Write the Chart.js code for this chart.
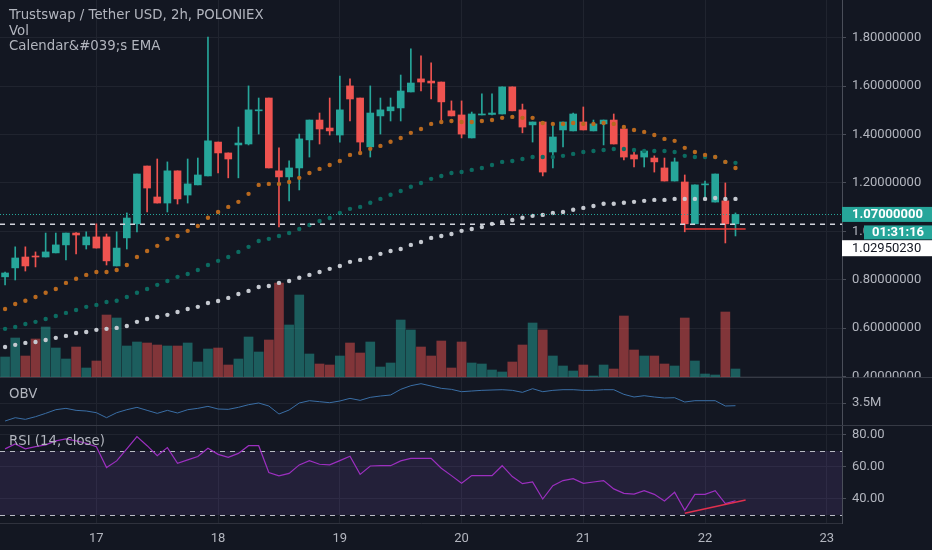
<!DOCTYPE html>
<html>
<head>
<meta charset="utf-8">
<script src="https://cdn.jsdelivr.net/npm/chart.js@4.4.1/dist/chart.umd.min.js"></script>
<style>
  body { margin: 0; background: #131722; width: 932px; height: 550px; overflow: hidden; position: relative; font-family: Roboto, sans-serif; }
  canvas { position: absolute; left: 0; }
  .lbl { position: absolute; left: 9px; color: #b2b5be; font-family: "DejaVu Sans", sans-serif; font-size: 13.3px; line-height: 16px; white-space: nowrap; }
  .sep { position: absolute; left: 0; width: 932px; height: 1px; background: #363a45; }
</style>
</head>
<body>
<canvas id="mainChart" width="932" height="378" style="top:0"></canvas>
<canvas id="obvChart" width="932" height="47" style="top:378px"></canvas>
<canvas id="rsiChart" width="932" height="124" style="top:426px"></canvas>
<div class="sep" style="top:377px"></div>
<div class="sep" style="top:425px"></div>
<div class="lbl" id="title" style="top:7px"></div>
<div class="lbl" id="volName" style="top:23px"></div>
<div class="lbl" id="emaName" style="top:38px"></div>
<div class="lbl" id="obvName" style="top:386px"></div>
<div class="lbl" id="rsiName" style="top:433px"></div>
<script>
// 2h candles, 16th 06:00 to 22nd 06:00
const openP = [0.812,0.849,0.894,0.898,0.894,0.911,0.944,0.993,0.944,0.977,
  0.977,0.857,0.973,1.031,1.270,1.142,1.117,1.250,1.150,1.192,
  1.229,1.369,1.324,1.357,1.361,1.498,1.551,1.250,1.225,1.262,
  1.378,1.460,1.427,1.398,1.601,1.551,1.349,1.477,1.498,1.510,
  1.576,1.630,1.621,1.617,1.498,1.481,1.386,1.481,1.483,1.485,
  1.597,1.502,1.440,1.452,1.328,1.419,1.415,1.452,1.415,1.444,
  1.460,1.423,1.316,1.307,1.303,1.262,1.208,1.204,1.031,1.192,
  1.121,1.126,1.031];
const highP = [0.832,0.936,0.936,0.915,0.993,0.993,0.993,0.995,0.998,1.031,
  0.989,0.998,1.076,1.237,1.270,1.299,1.287,1.250,1.299,1.303,
  1.803,1.369,1.324,1.431,1.601,1.551,1.551,1.345,1.291,1.402,
  1.460,1.489,1.551,1.642,1.630,1.551,1.601,1.551,1.551,1.646,
  1.754,1.725,1.696,1.617,1.539,1.539,1.493,1.568,1.568,1.597,
  1.597,1.526,1.452,1.452,1.448,1.452,1.489,1.514,1.460,1.460,
  1.485,1.431,1.340,1.332,1.312,1.303,1.303,1.233,1.192,1.208,
  1.237,1.200,1.076];
const lowP = [0.779,0.799,0.836,0.853,0.894,0.911,0.882,0.907,0.927,0.931,
  0.861,0.857,0.927,0.998,1.080,1.117,1.080,1.113,1.117,1.192,
  1.229,1.241,1.221,1.221,1.357,1.402,1.262,1.018,1.126,1.171,
  1.307,1.361,1.398,1.369,1.456,1.324,1.307,1.402,1.456,1.456,
  1.576,1.580,1.547,1.456,1.477,1.386,1.386,1.481,1.481,1.485,
  1.498,1.407,1.369,1.229,1.262,1.349,1.415,1.419,1.415,1.357,
  1.361,1.295,1.266,1.266,1.245,1.208,1.208,0.998,1.031,1.138,
  1.121,0.952,0.981];
const closeP = [0.828,0.890,0.857,0.894,0.915,0.944,0.993,0.985,0.977,0.931,
  0.878,0.931,1.055,1.237,1.179,1.117,1.250,1.134,1.196,1.233,
  1.374,1.324,1.299,1.365,1.502,1.502,1.262,1.225,1.262,1.382,
  1.460,1.423,1.415,1.502,1.547,1.369,1.489,1.502,1.514,1.580,
  1.613,1.617,1.613,1.535,1.477,1.402,1.485,1.485,1.489,1.597,
  1.498,1.431,1.452,1.245,1.390,1.452,1.485,1.419,1.444,1.460,
  1.361,1.307,1.299,1.332,1.287,1.208,1.287,1.031,1.192,1.196,
  1.237,1.031,1.070];
// volume, thousands
const volume = [21,40,22,39,51,30,19,31,10,17,63,60,32,36,35,33,32,32,35,16,29,30,
  13,19,41,26,38,95,53,83,24,14,13,22,35,25,36,11,15,58,48,31,
  22,37,10,36,15,14,8,6,16,33,55,48,22,12,7,13,2,13,9,62,
  28,22,22,14,12,60,17,4,3,66,9];
const emaFast = [0.679,0.700,0.713,0.729,0.746,0.762,0.787,0.804,0.820,0.832,
  0.832,0.840,0.861,0.894,0.919,0.940,0.969,0.981,1.002,1.022,
  1.056,1.080,1.101,1.122,1.155,1.192,1.196,1.196,1.204,1.221,
  1.241,1.258,1.274,1.291,1.316,1.324,1.341,1.353,1.370,1.386,
  1.407,1.423,1.444,1.452,1.456,1.452,1.452,1.456,1.460,1.469,
  1.473,1.469,1.469,1.448,1.444,1.444,1.448,1.444,1.444,1.448,
  1.444,1.431,1.419,1.411,1.398,1.382,1.374,1.345,1.328,1.316,
  1.307,1.287,1.262];
const emaMid = [0.597,0.605,0.617,0.626,0.638,0.650,0.663,0.675,0.688,0.696,
  0.708,0.713,0.729,0.746,0.762,0.779,0.795,0.812,0.824,0.840,
  0.861,0.878,0.894,0.915,0.936,0.960,0.969,0.981,0.993,1.010,
  1.026,1.043,1.055,1.076,1.093,1.101,1.118,1.134,1.151,1.167,
  1.184,1.200,1.217,1.229,1.241,1.245,1.254,1.262,1.274,1.287,
  1.291,1.299,1.307,1.307,1.307,1.312,1.320,1.328,1.332,1.336,
  1.340,1.340,1.336,1.332,1.332,1.332,1.328,1.312,1.307,1.307,
  1.307,1.287,1.283];
const emaSlow = [0.522,0.531,0.539,0.543,0.551,0.560,0.568,0.580,0.584,0.593,
  0.597,0.601,0.609,0.626,0.638,0.646,0.655,0.667,0.679,0.688,
  0.704,0.712,0.725,0.741,0.754,0.770,0.774,0.787,0.795,0.808,
  0.820,0.832,0.845,0.857,0.874,0.882,0.890,0.907,0.919,0.927,
  0.944,0.956,0.973,0.981,0.989,1.002,1.010,1.018,1.031,1.039,
  1.047,1.056,1.064,1.068,1.076,1.080,1.089,1.097,1.105,1.114,
  1.114,1.118,1.122,1.126,1.130,1.130,1.134,1.134,1.134,1.134,
  1.138,1.134,1.134];
// OBV, millions
const obv = [3.140,3.206,3.173,3.226,3.293,3.366,3.393,3.353,3.340,3.306,
  3.206,3.306,3.366,3.413,3.353,3.293,3.353,3.300,3.366,3.393,
  3.433,3.380,3.373,3.413,3.466,3.500,3.440,3.280,3.360,3.500,
  3.546,3.526,3.506,3.540,3.593,3.553,3.613,3.640,3.660,3.773,
  3.846,3.886,3.840,3.793,3.773,3.726,3.740,3.753,3.760,3.766,
  3.753,3.713,3.786,3.726,3.753,3.766,3.766,3.753,3.753,3.766,
  3.766,3.673,3.620,3.646,3.620,3.600,3.606,3.520,3.546,3.546,
  3.546,3.440,3.446];
const rsi = [71.3,74.4,71.3,72.7,73.8,76.3,77.5,76.3,74.8,72.7,
  59.6,63.8,71.3,79.0,73.3,67.1,72.1,62.3,64.4,66.5,
  71.7,67.9,66.0,68.5,73.3,73.3,56.5,54.4,56.0,61.3,
  64.0,61.7,61.3,64.0,66.7,55.4,60.6,60.8,60.8,63.8,
  65.4,65.4,65.4,59.2,54.6,49.8,54.6,54.6,54.6,60.8,
  54.0,49.6,50.6,40.0,48.3,51.5,52.7,49.8,50.6,51.5,
  46.3,43.5,43.1,45.2,42.9,38.8,44.2,32.9,42.9,42.9,
  45.2,37.1,38.9];

const dayLabels = ['17', '18', '19', '20', '21', '22', '23'];
const priceTicks = [0.4, 0.6, 0.8, 1.0, 1.2, 1.4, 1.6, 1.8];
const obvTicks = [3.5];
const rsiTicks = [40, 60, 80];
const rsiBands = [70, 30];
const lastPrice = 1.07;
const countdown = '01:31:16';
const markedPrice = 1.0295023;
const trendSlots = [67, 73];
const priceTrend = [1.01, 1.01];
const rsiTrend = [31.1, 39.4];

const slotCount = 83, firstDaySlot = 9, slotsPerDay = 12;
const GREEN = '#26a69a', RED = '#ef5350';
const GRID = '#20242f', AXIS = '#4a4e59', TEXT = '#b2b5be';

document.getElementById('title').textContent = 'Trustswap / Tether USD, 2h, POLONIEX';
document.getElementById('volName').textContent = 'Vol';
document.getElementById('emaName').textContent = 'Calendar&#039;s EMA';
document.getElementById('obvName').textContent = 'OBV';
document.getElementById('rsiName').textContent = 'RSI (14, close)';

Chart.defaults.font.family = 'Roboto, sans-serif';
Chart.defaults.animation = false;
Chart.defaults.events = [];
Chart.defaults.plugins.legend.display = false;
Chart.defaults.plugins.tooltip.enabled = false;

const labels = Array.from({ length: slotCount }, (_, i) =>
  i >= firstDaySlot && (i - firstDaySlot) % slotsPerDay === 0 ? dayLabels[(i - firstDaySlot) / slotsPerDay] : '');

const up = closeP.map((c, i) => c >= openP[i]);
const candleColors = up.map(u => u ? GREEN : RED);
const volColors = up.map(u => u ? 'rgba(38,166,154,0.5)' : 'rgba(239,83,80,0.5)');

function trendData(vals) {
  const d = new Array(slotCount).fill(null);
  trendSlots.forEach((s, i) => { d[s] = vals[i]; });
  return d;
}

function noPad(s) {
  s.paddingTop = 0; s.paddingBottom = 0; s.paddingLeft = 0; s.paddingRight = 0;
}

function xAxis(showLabels) {
  return {
    type: 'category',
    offset: true,
    grid: { offset: false, drawTicks: false, color: c => (c.tick && c.tick.label) ? GRID : 'transparent' },
    border: { display: showLabels, color: '#2f323d' },
    ticks: { display: showLabels, autoSkip: false, maxRotation: 0, color: TEXT, font: { size: 13 }, padding: 8 },
    afterFit: s => { s.height = showLabels ? 27 : 0; noPad(s); }
  };
}

function yAxis(min, max, ticks, fmt) {
  return {
    position: 'right', min, max,
    afterBuildTicks: s => { s.ticks = ticks.map(v => ({ value: v })); },
    afterFit: s => { s.width = 90; noPad(s); },
    grid: { color: GRID, tickColor: AXIS, tickLength: 4 },
    border: { color: AXIS },
    ticks: { color: TEXT, font: { size: 13 }, padding: 6, callback: fmt }
  };
}

function dots(data, color) {
  return { type: 'line', data, showLine: false, pointRadius: 2.2, pointBorderWidth: 0,
    pointBackgroundColor: color, order: 0 };
}

function hLine(ctx, area, y, color, dash, width) {
  ctx.beginPath();
  ctx.strokeStyle = color;
  ctx.lineWidth = width;
  ctx.setLineDash(dash);
  ctx.moveTo(area.left, y);
  ctx.lineTo(area.right, y);
  ctx.stroke();
}

const priceLines = {
  id: 'priceLines',
  afterDatasetsDraw(chart) {
    const { ctx, chartArea: a, scales: { y } } = chart;
    ctx.save();
    hLine(ctx, a, Math.round(y.getPixelForValue(lastPrice)) + 0.5, GREEN, [1, 2], 1);
    hLine(ctx, a, y.getPixelForValue(markedPrice), '#d1d4dc', [5, 5], 1.5);
    ctx.restore();
  },
  afterDraw(chart) {
    const { ctx, chartArea: a, scales: { y } } = chart;
    const x = a.right;
    ctx.save();
    ctx.textBaseline = 'middle';
    const yp = y.getPixelForValue(lastPrice);
    ctx.fillStyle = GREEN;
    ctx.fillRect(x, yp - 7.5, 90, 15);
    ctx.fillRect(x + 22, yp + 11, 68, 14);
    ctx.font = 'bold 13px Roboto';
    ctx.fillStyle = '#ffffff';
    ctx.fillText(lastPrice.toFixed(8), x + 10, yp + 0.5);
    ctx.fillText(countdown, x + 30, yp + 18.5);
    const ym = y.getPixelForValue(markedPrice) + 24;
    ctx.fillStyle = '#ffffff';
    ctx.fillRect(x, ym - 8, 90, 16);
    ctx.font = '13px Roboto';
    ctx.fillStyle = '#131722';
    ctx.fillText(markedPrice.toFixed(8), x + 10, ym + 0.5);
    ctx.restore();
  }
};

new Chart(document.getElementById('mainChart'), {
  type: 'bar',
  data: {
    labels,
    datasets: [
      dots(emaFast, '#b8691f'),
      dots(emaMid, '#0c6b61'),
      dots(emaSlow, '#c5c9d0'),
      { type: 'line', data: trendData(priceTrend), borderColor: '#e53935', borderWidth: 1.5,
        pointRadius: 0, spanGaps: true, order: 0 },
      { data: openP.map((o, i) => [o, closeP[i]]), backgroundColor: candleColors,
        barThickness: 7, minBarLength: 1, grouped: false, order: 1 },
      { data: lowP.map((l, i) => [l, highP[i]]), backgroundColor: candleColors,
        barThickness: 1, grouped: false, order: 2 },
      { data: volume, yAxisID: 'yv', backgroundColor: volColors,
        barThickness: 9, grouped: false, order: 3 }
    ]
  },
  options: {
    responsive: false,
    layout: { padding: 0, autoPadding: false },
    scales: {
      x: xAxis(false),
      y: yAxis(0.394, 1.956, priceTicks, v => v.toFixed(8)),
      yv: { display: false, min: 0, max: 378 }
    }
  },
  plugins: [priceLines]
});

new Chart(document.getElementById('obvChart'), {
  type: 'line',
  data: {
    labels,
    datasets: [{ data: obv, borderColor: '#3a6ea5', borderWidth: 1, pointRadius: 0 }]
  },
  options: {
    responsive: false,
    layout: { padding: 0, autoPadding: false },
    scales: {
      x: xAxis(false),
      y: yAxis(3.06, 4.0, obvTicks, v => v.toFixed(1) + 'M')
    }
  }
});

const rsiBand = {
  id: 'rsiBand',
  beforeDatasetsDraw(chart) {
    const { ctx, chartArea: a, scales: { y } } = chart;
    const top = y.getPixelForValue(rsiBands[0]), bot = y.getPixelForValue(rsiBands[1]);
    ctx.save();
    ctx.fillStyle = 'rgba(126,87,194,0.15)';
    ctx.fillRect(a.left, top, a.right - a.left, bot - top);
    rsiBands.forEach(v => hLine(ctx, a, Math.round(y.getPixelForValue(v)) + 0.5, '#b8bbc4', [5, 5], 1));
    ctx.restore();
  }
};

new Chart(document.getElementById('rsiChart'), {
  type: 'line',
  data: {
    labels,
    datasets: [
      { data: trendData(rsiTrend), borderColor: '#e0304e', borderWidth: 1.5, pointRadius: 0, spanGaps: true },
      { data: rsi, borderColor: '#9c2fbf', borderWidth: 1.2, pointRadius: 0 }
    ]
  },
  options: {
    responsive: false,
    layout: { padding: 0, autoPadding: false },
    scales: {
      x: xAxis(true),
      y: yAxis(25, 85.6, rsiTicks, v => v.toFixed(2))
    }
  },
  plugins: [rsiBand]
});
</script>
</body>
</html>
